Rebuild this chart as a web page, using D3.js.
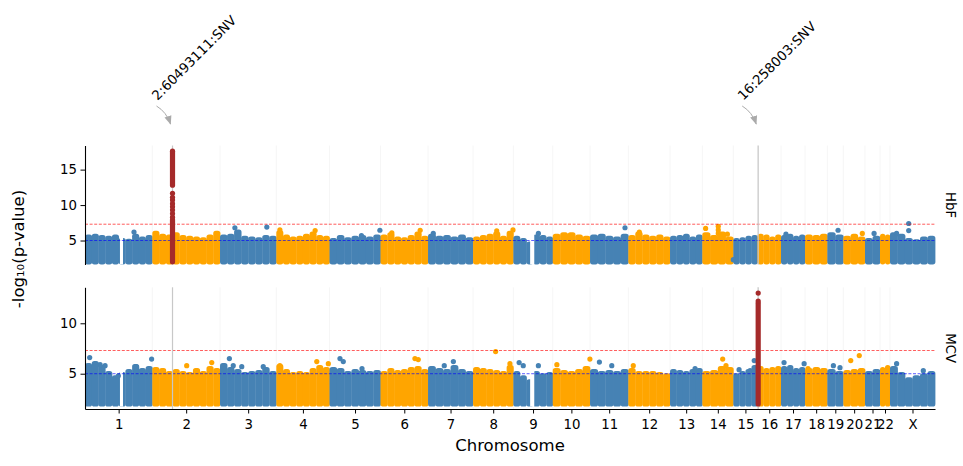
<!DOCTYPE html>
<html>
<head>
<meta charset="utf-8">
<script src="https://cdnjs.cloudflare.com/ajax/libs/d3/7.8.5/d3.min.js"></script>
<style>
    body { margin: 0; background: #fff; }
    text { font-family: "DejaVu Sans", sans-serif; }
</style>
</head>
<body>
<svg id="chart" width="963" height="466"></svg>
<script>

// chromosomes and the span each one takes on the plot (Mb)
var chromNames = ["1", "2", "3", "4", "5", "6", "7", "8", "9", "10", "11", "12",
    "13", "14", "15", "16", "17", "18", "19", "20", "21", "22", "X"];
var chromSpan = [244.5, 246.0, 204.5, 193.3, 185.3, 172.6, 163.5, 146.4, 143.1, 135.5, 139.1, 151.5,
    117.3, 112.6, 87.9, 85.4, 87.2, 81.0, 58.1, 78.8, 54.5, 36.3, 163.5];

// stretches with no variants (chrom, from Mb, to Mb)
var gaps = [["1", 127, 138], ["9", 61, 76]];

// lowest -log10(p) kept in the plot
var floorValue = 2;
var suggestiveLine = 5;
var genomeWideLine = 7.3;

// lead variants
var hitLabels = ["2:60493111:SNV", "16:258003:SNV"];
var hitChrom = ["2", "16"];
var hitPos = [73.4, 2.5];

// HbF: top of the dense cloud per chromosome, in equal bins
var hbfTops = [
    [5.5, 5.6, 5.4, 5.3, 5.5, 5.0, 4.9, 5.6, 5.2, 5.4],
    [6.0, 5.6, 5.5, 5.8, 5.4, 5.3, 5.2, 5.1, 5.5, 6.0],
    [5.5, 5.6, 6.2, 5.3, 5.2, 5.1, 5.4, 5.3],
    [6.1, 5.5, 5.2, 5.3, 5.6, 5.9, 5.4, 5.3],
    [5.0, 5.4, 5.1, 5.3, 5.4, 5.2, 5.5],
    [5.5, 5.8, 5.2, 5.1, 5.4, 5.9, 5.3],
    [5.6, 5.3, 5.4, 5.2, 5.5, 5.1],
    [5.2, 5.4, 5.6, 5.9, 5.3, 6.0],
    [5.3, 5.0, 4.5, 5.5, 5.4, 5.2],
    [5.6, 5.8, 5.8, 5.5, 5.3],
    [5.5, 5.6, 5.3, 5.2, 5.6],
    [5.4, 5.9, 5.5, 5.3, 5.5, 5.2],
    [5.3, 5.4, 5.6, 5.2, 5.5],
    [5.8, 5.4, 5.9, 5.2],
    [5.0, 5.1, 5.3, 5.4],
    [5.6, 5.5, 5.2, 5.5],
    [5.4, 5.6, 5.3, 5.5],
    [5.5, 5.4, 5.6],
    [5.8, 5.5],
    [5.3, 5.6, 5.2],
    [5.0, 5.3],
    [5.6, 5.5],
    [5.8, 5.6, 5.0, 4.8, 5.2, 5.3]
];

// HbF: single points standing above the cloud (chrom, Mb, -log10 p)
var hbfPeaks = [
    ["1", 178, 6.2], ["3", 54, 6.8], ["3", 170, 6.9], ["4", 13, 6.5], ["4", 141, 6.4],
    ["5", 116, 5.7], ["5", 183, 6.45], ["6", 41, 6.1], ["6", 144, 6.45], ["7", 19, 6.0],
    ["8", 86, 6.35], ["8", 145, 6.5], ["9", 91, 6.0], ["11", 127, 6.8], ["12", 40, 6.2],
    ["14", 12, 6.7], ["14", 58, 7.0], ["14", 58, 6.5], ["14", 58, 6.0], ["14", 91, 5.9],
    ["15", 0, 2.3], ["17", 18, 5.9], ["19", 39, 6.45], ["20", 69, 6.0], ["21", 33, 6.0],
    ["X", 24, 6.0], ["X", 68, 7.4], ["X", 68, 6.4]
];

// HbF: the chr2 locus
var hbfHitRuns = [[2, 7.9], [12.8, 17.5]];
var hbfHitPoints = [8.3, 8.8, 9.3, 9.75, 10.2, 10.7, 11.1, 11.65, 17.6];

// MCV
var mcvTops = [
    [5.8, 6.0, 5.6, 5.0, 4.6, 4.9, 5.2, 5.7, 5.3, 5.5],
    [5.4, 5.3, 5.0, 5.2, 5.0, 4.9, 5.3, 5.0, 5.5, 5.3],
    [5.8, 5.4, 5.2, 4.9, 5.0, 5.1, 5.4, 5.0],
    [5.7, 5.2, 4.9, 5.0, 4.9, 5.3, 5.6, 5.4],
    [5.4, 5.3, 5.0, 5.2, 5.1, 5.0, 5.1],
    [5.0, 5.3, 5.1, 5.2, 5.4, 5.5, 5.2],
    [5.5, 5.3, 5.2, 5.6, 5.2, 5.0],
    [5.4, 5.3, 5.2, 5.1, 5.0, 5.6],
    [5.0, 4.6, 4.2, 5.0, 4.8, 4.9],
    [5.3, 5.1, 5.0, 5.2, 5.5],
    [5.2, 5.0, 5.1, 5.0, 5.2],
    [5.3, 5.0, 5.0, 5.0, 4.9, 4.8],
    [5.2, 5.1, 5.0, 5.2, 5.3],
    [5.0, 5.1, 5.5, 5.4],
    [4.8, 5.0, 5.2, 5.6],
    [5.5, 5.3, 5.4, 5.5],
    [5.5, 5.6, 5.3, 5.4],
    [5.3, 5.4, 5.3],
    [5.2, 5.0],
    [5.1, 5.2, 5.3],
    [5.0, 5.2],
    [5.4, 5.6],
    [5.5, 4.9, 4.4, 4.6, 4.8, 5.0]
];

var mcvPeaks = [
    ["1", 17, 6.6], ["1", 55, 5.9], ["1", 73, 5.8], ["1", 121, 4.8], ["1", 185, 5.7], ["1", 242, 6.45],
    ["2", 125, 5.8], ["2", 216, 6.1], ["3", 34, 6.5], ["3", 48, 5.8], ["3", 79, 5.7], ["3", 157, 5.7],
    ["4", 13, 5.8], ["4", 147, 6.2], ["4", 189, 6.0], ["5", 38, 6.5], ["5", 50, 6.2], ["5", 118, 5.5],
    ["6", 125, 6.5], ["6", 137, 6.4], ["7", 59, 5.8], ["7", 92, 6.2], ["8", 82, 7.2], ["8", 134, 6.0],
    ["9", 21, 6.1], ["9", 36, 5.8], ["9", 91, 5.8], ["10", 15, 5.9], ["10", 135, 6.45],
    ["11", 34, 6.15], ["11", 79, 5.8], ["12", 18, 5.8], ["13", 91, 5.5], ["14", 74, 6.45], ["14", 86, 5.8],
    ["15", 21, 5.4], ["15", 61, 5.3], ["15", 76, 6.3], ["17", 11, 6.1], ["17", 84, 6.0], ["18", 11, 5.5],
    ["19", 22, 5.8], ["19", 46, 5.6], ["20", 27, 6.3], ["20", 58, 6.8], ["21", 40, 2.5],
    ["X", 24, 6.0], ["X", 121, 5.3]
];

// MCV: the chr16 locus
var mcvHitRuns = [[2, 12.0]];
var mcvHitPoints = [12.2, 13.0];


var svg = d3.select("#chart");
var colors = ["steelblue", "orange"];
var hitColor = "#a52a2a";
var r = 2.6;

var chromStart = {};
var chromIndex = {};
var total = 0;
chromNames.forEach(function (c, i) {
    chromStart[c] = total;
    chromIndex[c] = i;
    total += chromSpan[i];
});

var x = d3.scaleLinear().domain([0, total]).range([85, 935]);

function gx(chrom, pos) {
    return x(chromStart[chrom] + pos);
}

function DrawPanel(y, tops, peaks, runs, points, hitIdx, name) {
    var g = svg.append("g");
    var y0 = y.range()[0], y1 = y.range()[1];

    // faint chromosome separators
    g.selectAll(".sep")
        .data(chromNames.slice(1))
        .enter().append("line")
        .attr("x1", function (c) { return gx(c, 0); })
        .attr("x2", function (c) { return gx(c, 0); })
        .attr("y1", y1).attr("y2", y0)
        .attr("stroke", "#f6f6f6")
        .attr("stroke-width", 1);

    // dense cloud, one block per bin
    var bins = [];
    tops.forEach(function (t, i) {
        var n = t.length;
        t.forEach(function (v, j) {
            bins.push({
                i: i,
                a: chromStart[chromNames[i]] + chromSpan[i] * j / n,
                b: chromStart[chromNames[i]] + chromSpan[i] * (j + 1) / n,
                top: v
            });
        });
    });

    g.selectAll(".bin")
        .data(bins)
        .enter().append("rect")
        .attr("x", function (d) { return x(d.a); })
        .attr("width", function (d) { return x(d.b) - x(d.a) + 0.4; })
        .attr("y", function (d) { return y(d.top) - r; })
        .attr("height", function (d) { return y(floorValue) - y(d.top) + 2 * r; })
        .attr("rx", r)
        .attr("fill", function (d) { return colors[d.i % 2]; });

    // blank stretches
    g.selectAll(".gap")
        .data(gaps)
        .enter().append("rect")
        .attr("x", function (d) { return gx(d[0], d[1]); })
        .attr("width", function (d) { return gx(d[0], d[2]) - gx(d[0], d[1]); })
        .attr("y", y1)
        .attr("height", y(floorValue) + r - y1)
        .attr("fill", "#fff");

    g.selectAll(".peak")
        .data(peaks)
        .enter().append("circle")
        .attr("cx", function (d) { return gx(d[0], d[1]); })
        .attr("cy", function (d) { return y(d[2]); })
        .attr("r", r)
        .attr("fill", function (d) { return colors[chromIndex[d[0]] % 2]; });

    // threshold lines
    g.append("line")
        .attr("x1", 85).attr("x2", 935)
        .attr("y1", y(genomeWideLine)).attr("y2", y(genomeWideLine))
        .attr("stroke", "red").attr("stroke-width", 0.8)
        .attr("stroke-dasharray", "3,1.6").attr("opacity", 0.8);
    g.append("line")
        .attr("x1", 85).attr("x2", 935)
        .attr("y1", y(suggestiveLine)).attr("y2", y(suggestiveLine))
        .attr("stroke", "blue").attr("stroke-width", 0.8)
        .attr("stroke-dasharray", "3,1.6").attr("opacity", 0.8);

    // lead variant positions
    g.selectAll(".hitline")
        .data(hitChrom)
        .enter().append("line")
        .attr("x1", function (c, i) { return gx(c, hitPos[i]); })
        .attr("x2", function (c, i) { return gx(c, hitPos[i]); })
        .attr("y1", y1).attr("y2", y0)
        .attr("stroke", "#c8c8c8")
        .attr("stroke-width", 1.2);

    var hx = gx(hitChrom[hitIdx], hitPos[hitIdx]);
    g.selectAll(".run")
        .data(runs)
        .enter().append("line")
        .attr("x1", hx).attr("x2", hx)
        .attr("y1", function (d) { return y(d[0]); })
        .attr("y2", function (d) { return y(d[1]); })
        .attr("stroke", hitColor)
        .attr("stroke-width", 2 * r)
        .attr("stroke-linecap", "round");
    g.selectAll(".hitpt")
        .data(points)
        .enter().append("circle")
        .attr("cx", hx)
        .attr("cy", function (d) { return y(d); })
        .attr("r", r)
        .attr("fill", hitColor);

    // y axis
    g.append("g")
        .attr("transform", "translate(85,0)")
        .call(d3.axisLeft(y).tickValues(name === "HbF" ? [5, 10, 15] : [5, 10])
            .tickSize(4.5).tickSizeOuter(0).tickPadding(3.5))
        .call(function (a) {
            a.selectAll("text").style("font-size", "13.3px").attr("fill", "#000");
            a.select(".domain").attr("stroke", "#000").attr("stroke-width", 1.1);
        });

    g.append("text")
        .attr("transform", "translate(946," + ((y0 + y1) / 2) + ") rotate(90)")
        .attr("text-anchor", "middle")
        .style("font-size", "13.3px")
        .text(name);
}

var yTop = d3.scaleLinear().domain([1.62, 18.4]).range([264.5, 145.5]);
var yBottom = d3.scaleLinear().domain([1.5, 13.57]).range([409, 287.3]);

DrawPanel(yTop, hbfTops, hbfPeaks, hbfHitRuns, hbfHitPoints, 0, "HbF");
DrawPanel(yBottom, mcvTops, mcvPeaks, mcvHitRuns, mcvHitPoints, 1, "MCV");

// chromosome axis
var mids = chromNames.map(function (c, i) { return chromStart[c] + chromSpan[i] / 2; });
svg.append("g")
    .attr("transform", "translate(0,409)")
    .call(d3.axisBottom(x).tickValues(mids)
        .tickFormat(function (d, i) { return chromNames[i]; })
        .tickSize(4.5).tickSizeOuter(0).tickPadding(6))
    .call(function (a) {
        a.selectAll("text").style("font-size", "13.3px").attr("fill", "#000");
        a.select(".domain").attr("stroke", "#000").attr("stroke-width", 1.1);
    });

svg.append("text")
    .attr("x", 510).attr("y", 451)
    .attr("text-anchor", "middle")
    .style("font-size", "16.5px")
    .text("Chromosome");

svg.append("text")
    .attr("transform", "translate(24,249) rotate(-90)")
    .attr("text-anchor", "middle")
    .style("font-size", "16.5px")
    .text("-log\u2081\u2080(p-value)");

// annotations for the lead variants
svg.append("defs").append("marker")
    .attr("id", "head")
    .attr("viewBox", "0 0 10 10")
    .attr("refX", 9).attr("refY", 5)
    .attr("markerWidth", 9).attr("markerHeight", 9)
    .attr("markerUnits", "userSpaceOnUse")
    .attr("orient", "auto")
    .append("path")
    .attr("d", "M0,1L10,5L0,9Z")
    .attr("fill", "#aaa");

hitChrom.forEach(function (c, i) {
    var hx = gx(c, hitPos[i]);
    svg.append("path")
        .attr("d", "M" + (hx - 16) + ",106Q" + (hx - 6) + ",112 " + (hx - 2) + ",124")
        .attr("fill", "none")
        .attr("stroke", "#aaa")
        .attr("stroke-width", 1)
        .attr("marker-end", "url(#head)");
    svg.append("text")
        .attr("transform", "translate(" + (hx - 15) + ",101) rotate(-45)")
        .style("font-size", "13.3px")
        .text(hitLabels[i]);
});

</script>
</body>
</html>
